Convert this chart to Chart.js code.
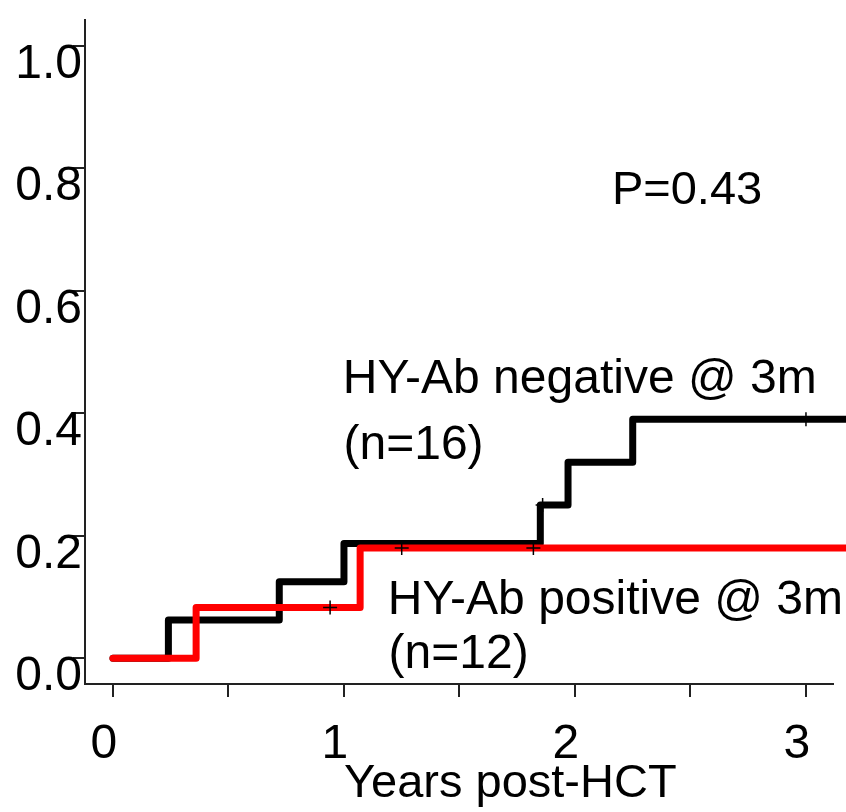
<!DOCTYPE html>
<html>
<head>
<meta charset="utf-8">
<script src="https://cdn.jsdelivr.net/npm/chart.js@4/dist/chart.umd.min.js"></script>
<style>
  html, body { margin: 0; padding: 0; background: #fff; }
  canvas { display: block; }
</style>
</head>
<body>
<canvas id="kmChart" width="846" height="812"></canvas>
<script>
// Cumulative incidence, HY-Ab negative @ 3m (n=16)
const negTimes = [0, 0.24, 0.72, 1.0, 1.85, 1.97, 2.25, 3.2];
const negRisk  = [0, 0.0625, 0.125, 0.1875, 0.25, 0.32, 0.39, 0.39];

// Cumulative incidence, HY-Ab positive @ 3m (n=12)
const posTimes = [0, 0.36, 1.07, 3.2];
const posRisk  = [0, 0.083, 0.18, 0.18];

// Censored observations (+)
const censorTimes = [0.94, 1.25, 1.82, 1.86, 3.0];
const censorRisk  = [0.083, 0.18, 0.18, 0.25, 0.39];

const yTicks = [0, 0.2, 0.4, 0.6, 0.8, 1.0];
const xTicks = [0, 0.5, 1, 1.5, 2, 2.5, 3];
const xLabels = ['0', '', '1', '', '2', '', '3'];

const FONT = '"Liberation Sans", Arial, sans-serif';
const AXIS_COLOR = '#222';

const toPoints = (xs, ys) => xs.map((x, i) => ({ x: x, y: ys[i] }));

// Text placed inside the plot, in data coordinates (left / baseline)
const annotations = [
    { text: 'P=0.43', x: 2.16, y: 0.741, size: 47 },
    { text: 'HY-Ab negative @ 3m', x: 0.995, y: 0.433, size: 48 },
    { text: '(n=16)', x: 0.998, y: 0.325, size: 48 },
    { text: 'HY-Ab positive @ 3m', x: 1.19, y: 0.073, size: 48 },
    { text: '(n=12)', x: 1.193, y: -0.016, size: 48 }
];

const textPlugin = {
    id: 'plotText',
    afterDraw(chart) {
        const ctx = chart.ctx;
        const xs = chart.scales.x;
        const ys = chart.scales.y;
        ctx.save();
        ctx.fillStyle = '#000';
        ctx.textAlign = 'left';
        ctx.textBaseline = 'alphabetic';
        annotations.forEach(a => {
            ctx.font = a.size + 'px ' + FONT;
            ctx.fillText(a.text, xs.getPixelForValue(a.x), ys.getPixelForValue(a.y));
        });
        // x axis title
        ctx.font = '47px ' + FONT;
        ctx.textAlign = 'center';
        ctx.fillText('Years post-HCT', xs.getPixelForValue(1.72), 797);
        ctx.restore();
    }
};

const ctx = document.getElementById('kmChart').getContext('2d');
new Chart(ctx, {
    type: 'line',
    data: {
        datasets: [
            {
                type: 'scatter',
                data: toPoints(censorTimes, censorRisk),
                pointStyle: 'cross',
                pointRadius: 7,
                borderWidth: 1.5,
                borderColor: '#000',
                backgroundColor: '#000',
                showLine: false
            },
            {
                label: 'HY-Ab positive @ 3m',
                data: toPoints(posTimes, posRisk),
                stepped: 'before',
                borderColor: '#ff0000',
                borderWidth: 7,
                borderCapStyle: 'round',
                borderJoinStyle: 'round',
                pointRadius: 0,
                fill: false,
                clip: { left: 0, top: 0, right: 20, bottom: 0 }
            },
            {
                label: 'HY-Ab negative @ 3m',
                data: toPoints(negTimes, negRisk),
                stepped: 'before',
                borderColor: '#000',
                borderWidth: 7,
                borderCapStyle: 'round',
                borderJoinStyle: 'round',
                pointRadius: 0,
                fill: false,
                clip: { left: 0, top: 0, right: 20, bottom: 0 }
            }
        ]
    },
    options: {
        responsive: false,
        animation: false,
        devicePixelRatio: 1,
        layout: { padding: { top: 13, right: 13, left: 0, bottom: 0 } },
        plugins: {
            legend: { display: false },
            tooltip: { enabled: false }
        },
        scales: {
            x: {
                type: 'linear',
                min: -0.121,
                max: 3.117,
                afterBuildTicks: scale => { scale.ticks = xTicks.map(v => ({ value: v })); },
                afterFit: scale => { scale.height = 128; },
                border: { display: true, color: AXIS_COLOR, width: 2 },
                grid: { drawOnChartArea: false, drawTicks: true, tickLength: 13, color: AXIS_COLOR, lineWidth: 2 },
                ticks: {
                    autoSkip: false,
                    maxRotation: 0,
                    padding: 19,
                    labelOffset: -9,
                    color: '#000',
                    font: { family: FONT, size: 48 },
                    callback: (v, i) => xLabels[i]
                }
            },
            y: {
                min: -0.042,
                max: 1.042,
                afterBuildTicks: scale => { scale.ticks = yTicks.map(v => ({ value: v })); },
                afterFit: scale => { scale.width = 85; },
                border: { display: true, color: AXIS_COLOR, width: 2 },
                grid: { drawOnChartArea: false, drawTicks: true, tickLength: 12, color: AXIS_COLOR, lineWidth: 2 },
                ticks: {
                    padding: -9,
                    labelOffset: 19,
                    color: '#000',
                    font: { family: FONT, size: 48 },
                    callback: v => v.toFixed(1)
                }
            }
        }
    },
    plugins: [textPlugin]
});
</script>
</body>
</html>
